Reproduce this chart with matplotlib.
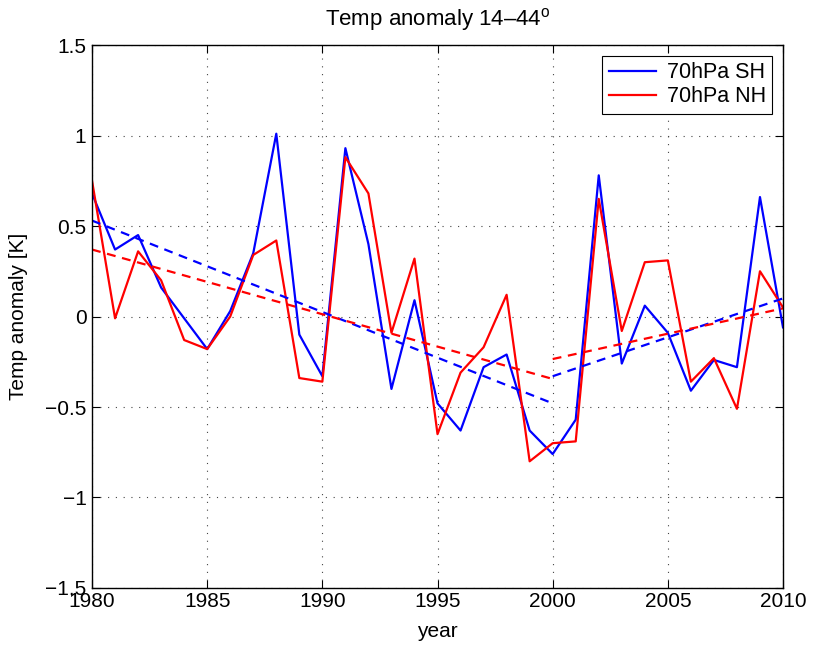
import matplotlib
matplotlib.use("Agg")
import matplotlib.pyplot as plt
from matplotlib.lines import Line2D

plt.rcParams['font.family'] = ['Liberation Sans', 'DejaVu Sans']
plt.rcParams['mathtext.fontset'] = 'custom'
plt.rcParams['mathtext.rm'] = 'Liberation Sans'

years = list(range(1980, 2011))

sh_70hpa = [0.68, 0.37, 0.45, 0.16, -0.01, -0.18, 0.03, 0.35, 1.01, -0.10,
            -0.33, 0.93, 0.40, -0.40, 0.09, -0.48, -0.63, -0.28, -0.21, -0.63,
            -0.76, -0.57, 0.78, -0.26, 0.06, -0.09, -0.41, -0.24, -0.28, 0.66,
            -0.06]

nh_70hpa = [0.75, -0.01, 0.36, 0.20, -0.13, -0.18, 0.00, 0.34, 0.42, -0.34,
            -0.36, 0.88, 0.68, -0.09, 0.32, -0.65, -0.31, -0.17, 0.12, -0.80,
            -0.70, -0.69, 0.65, -0.08, 0.30, 0.31, -0.36, -0.23, -0.51, 0.25,
            0.05]

# Piecewise linear trends: 1980-2000 and 2000-2010
trend_years_early = [1980, 2000]
trend_years_late = [2000, 2010]
sh_trend_early = [0.53, -0.48]
sh_trend_late = [-0.33, 0.10]
nh_trend_early = [0.37, -0.345]
nh_trend_late = [-0.235, 0.045]

fig = plt.figure(figsize=(8.13, 6.46), dpi=100)
ax = fig.add_axes([0.1132, 0.0898, 0.9631 - 0.1132, 0.9303 - 0.0898])

lw = 1.6
ax.plot(years, sh_70hpa, color='#0000ff', lw=lw)
ax.plot(years, nh_70hpa, color='#ff0000', lw=lw)
dash = (0, (4, 3))
ax.plot(trend_years_early, sh_trend_early, color='#0000ff', lw=lw, linestyle=dash)
ax.plot(trend_years_late, sh_trend_late, color='#0000ff', lw=lw, linestyle=dash)
ax.plot(trend_years_early, nh_trend_early, color='#ff0000', lw=lw, linestyle=dash)
ax.plot(trend_years_late, nh_trend_late, color='#ff0000', lw=lw, linestyle=dash)

ax.set_xlim(1980, 2010)
ax.set_ylim(-1.5, 1.5)
ax.set_xticks(range(1980, 2011, 5))
ax.set_yticks([-1.5, -1, -0.5, 0, 0.5, 1, 1.5])
ax.set_yticklabels(['\u22121.5', '\u22121', '\u22120.5', '0', '0.5', '1', '1.5'])

ax.grid(True, color='#444444', linestyle=(0, (1, 6)), linewidth=0.8)
ax.tick_params(direction='in', top=True, right=True, length=6, width=0.8,
               labelsize=15)
ax.tick_params(axis='y', pad=4)
ax.tick_params(axis='x', pad=3)
for s in ax.spines.values():
    s.set_linewidth(1.0)

ax.set_xlabel('year', fontsize=15, labelpad=8)
ax.set_ylabel('Temp anomaly [K]', fontsize=15, labelpad=12)
ax.set_title('Temp anomaly 14\u201344$^{\\rm o}$', fontsize=16, pad=14)

handles = [Line2D([0], [0], color='#0000ff', lw=lw),
           Line2D([0], [0], color='#ff0000', lw=lw)]
leg = ax.legend(handles, ['70hPa SH', '70hPa NH'], loc='upper right',
                fontsize=15.5, frameon=True, fancybox=False, framealpha=1,
                edgecolor='black', borderaxespad=0.5, handlelength=2.2,
                handletextpad=0.5, borderpad=0.3, labelspacing=0.15)
leg.get_frame().set_linewidth(0.8)

fig.savefig('out.png', dpi=100)
